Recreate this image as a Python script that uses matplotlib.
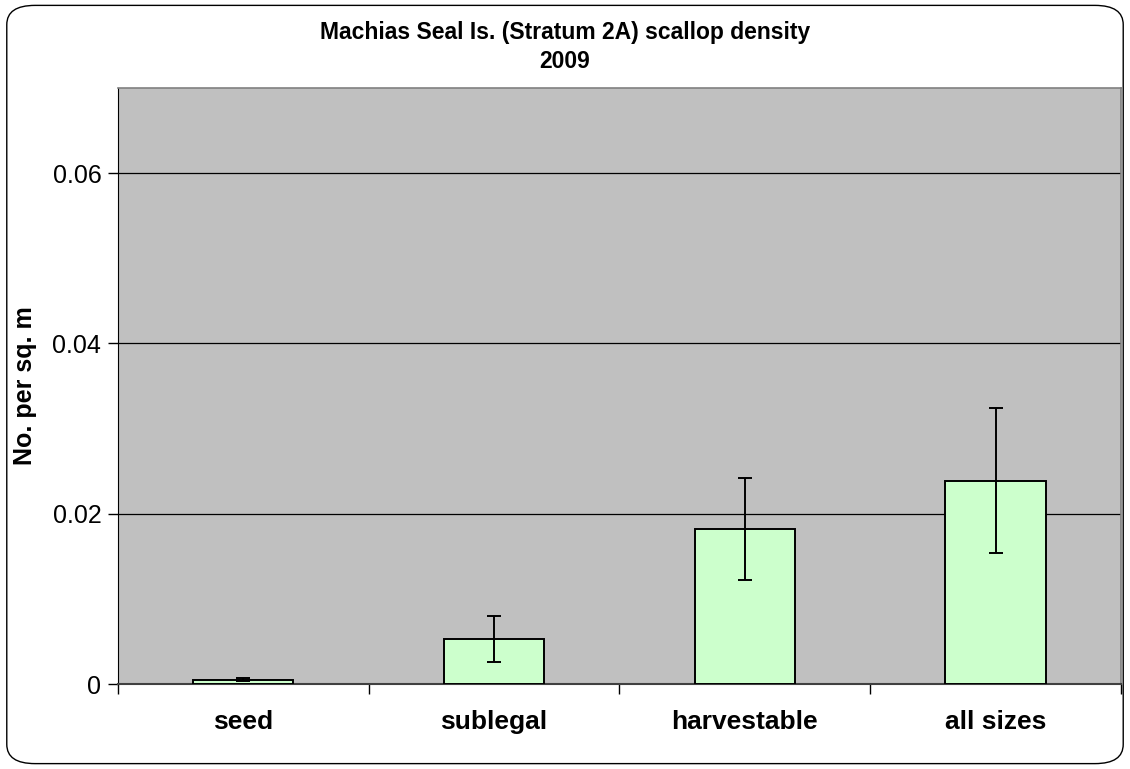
import matplotlib.pyplot as plt
import numpy as np
from matplotlib.patches import FancyBboxPatch

plt.rcParams['font.family'] = ['Liberation Sans', 'DejaVu Sans']

categories = ["seed", "sublegal", "harvestable", "all sizes"]
density = [0.0005, 0.0053, 0.0182, 0.0239]
err = [0.0002, 0.0027, 0.0060, 0.0085]

fig = plt.figure(figsize=(11.3, 7.69), dpi=100)

# rounded chart border
border = FancyBboxPatch((0.006, 0.007), 0.988, 0.986, boxstyle="round,pad=0,rounding_size=0.025",
                        transform=fig.transFigure, fill=False, edgecolor="black", linewidth=1.0)
fig.patches.append(border)

ax = fig.add_axes([0.1044, 0.1105, 0.8876, 0.7751])
ax.set_facecolor("#C0C0C0")

x = np.arange(len(categories))
ax.bar(x, density, width=0.4, color="#CCFFCC", edgecolor="black", linewidth=1.4, zorder=3)
ax.errorbar(x, density, yerr=err, fmt="none", ecolor="black", elinewidth=1.4,
            capsize=5, capthick=1.4, zorder=4)

ax.set_xlim(-0.5, len(categories) - 0.5)
ax.set_ylim(0, 0.07)
ax.set_yticks([0, 0.02, 0.04, 0.06])
ax.set_yticklabels(["0", "0.02", "0.04", "0.06"], fontsize=18)
ax.yaxis.grid(True, color="black", linewidth=0.9)
ax.set_axisbelow(True)

ax.set_xticks(x)
ax.set_xticklabels(categories, fontsize=19, fontweight="bold")
ax.set_xticks(np.arange(-0.5, len(categories)), minor=True)
ax.tick_params(axis="x", which="major", length=0, pad=19)
ax.tick_params(axis="x", which="minor", length=7, width=1, direction="out")
ax.tick_params(axis="y", length=7, width=1, direction="out", pad=5)

for s in ["top", "right"]:
    ax.spines[s].set_color("#808080")
    ax.spines[s].set_linewidth(1.2)
ax.spines["left"].set_color("black")
ax.spines["bottom"].set_color("#404040")
ax.spines["bottom"].set_linewidth(1.5)

ax.set_ylabel("No. per sq. m", fontsize=18, fontweight="bold")
ax.yaxis.set_label_coords(-0.081, 0.5)

fig.text(0.5, 1 - 33 / 769, "Machias Seal Is. (Stratum 2A) scallop density", ha="center", va="center",
         fontsize=16.5, fontweight="bold")
fig.text(0.5, 1 - 61 / 769, "2009", ha="center", va="center", fontsize=16.5, fontweight="bold")

fig.savefig("out.png", dpi=100)
